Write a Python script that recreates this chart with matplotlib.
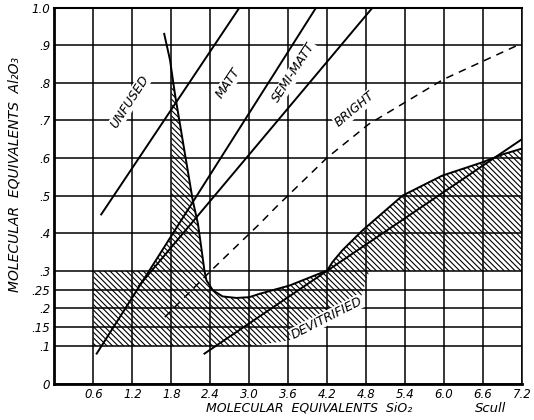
import numpy as np
import matplotlib.pyplot as plt

# axis ticks
X_TICKS = [0.6, 1.2, 1.8, 2.4, 3.0, 3.6, 4.2, 4.8, 5.4, 6.0, 6.6, 7.2]
X_TICK_LABELS = ["0.6", "1.2", "1.8", "2.4", "3.0", "3.6", "4.2", "4.8", "5.4", "6.0", "6.6", "7.2"]
Y_TICKS = [0, 0.1, 0.15, 0.2, 0.25, 0.3, 0.4, 0.5, 0.6, 0.7, 0.8, 0.9, 1.0]
Y_TICK_LABELS = ["0", ".1", ".15", ".2", ".25", ".3", ".4", ".5", ".6", ".7", ".8", ".9", "1.0"]

# straight boundary lines (end points)
UNFUSED_X = [0.72, 2.85]
UNFUSED_Y = [0.45, 1.0]
MATT_X = [0.65, 4.03]
MATT_Y = [0.08, 1.0]
SEMI_MATT_X = [1.3, 4.9]
SEMI_MATT_Y = [0.26, 1.0]
DEVIT_X = [2.31, 7.2]
DEVIT_Y = [0.08, 0.65]

# dashed "bright" boundary
BRIGHT_X = [1.70, 2.39, 3.16, 3.41, 4.20, 4.84, 5.99, 7.2]
BRIGHT_Y = [0.177, 0.297, 0.425, 0.469, 0.601, 0.69, 0.809, 0.905]

# spike + devitrified upper curve
CURVE_X = [1.69, 1.78, 1.83, 1.86, 2.13, 2.21, 2.26, 2.31, 2.34, 2.44, 2.59, 2.80, 3.00,
           3.16, 3.62, 4.20, 4.28, 4.43, 4.74, 5.36, 5.97, 6.58, 6.91, 7.2]
CURVE_Y = [0.93, 0.86, 0.80, 0.765, 0.487, 0.425, 0.363, 0.30, 0.275, 0.248, 0.232, 0.228, 0.230,
           0.239, 0.261, 0.301, 0.323, 0.354, 0.407, 0.50, 0.553, 0.588, 0.610, 0.625]

# hatched band limits and lower edge of hatched area
BAND_LEFT = 0.6
BAND_BOTTOM = 0.1
BAND_TOP = 0.3
SPIKE_LEFT = 1.8
LOWER_X = [7.2, 4.85, 4.7, 4.2, 3.6, 3.05, 0.6]
LOWER_Y = [0.3, 0.3, 0.22, 0.16, 0.115, 0.1, 0.1]

# region labels: text, x, y, rotation
LABELS = ["UNFUSED", "MATT", "SEMI-MATT", "BRIGHT", "DEVITRIFIED"]
LABEL_X = [1.155, 2.68, 3.69, 4.63, 4.19]
LABEL_Y = [0.748, 0.80, 0.827, 0.73, 0.174]
LABEL_ROT = [57, 56, 57, 40, 27]

plt.rcParams["font.family"] = ["DejaVu Sans"]
plt.rcParams["hatch.linewidth"] = 0.8
fig = plt.figure(figsize=(5.34, 4.2), dpi=100)
ax = fig.add_axes([0.102, 0.0864, 0.8755, 0.8957])
ax.set_xlim(0, 7.2)
ax.set_ylim(0, 1.0)

ax.set_xticks(X_TICKS)
ax.set_xticklabels(X_TICK_LABELS, fontsize=8.5, style="italic")
ax.set_yticks(Y_TICKS)
ax.set_yticklabels(Y_TICK_LABELS, fontsize=8.5, style="italic")
ax.tick_params(length=0, pad=3)
ax.grid(True, color="black", lw=1.1)
ax.set_axisbelow(True)

for side, lw in [("left", 2.0), ("bottom", 2.0), ("top", 1.5), ("right", 1.1)]:
    ax.spines[side].set_linewidth(lw)

# hatched area outline
line2_at_top = np.interp(BAND_TOP, MATT_Y, MATT_X)
line2_at_spike = np.interp(SPIKE_LEFT, MATT_X, MATT_Y)
spike_at_left = np.interp(SPIKE_LEFT, CURVE_X, CURVE_Y)
poly_x = [BAND_LEFT, BAND_LEFT, line2_at_top, SPIKE_LEFT, SPIKE_LEFT]
poly_y = [BAND_BOTTOM, BAND_TOP, BAND_TOP, line2_at_spike, spike_at_left]
for cx, cy in zip(CURVE_X, CURVE_Y):
    if cx > SPIKE_LEFT:
        poly_x.append(cx)
        poly_y.append(cy)
poly_x += LOWER_X
poly_y += LOWER_Y
ax.fill(poly_x, poly_y, facecolor="none", edgecolor="black", hatch="\\" * 6, lw=0)

ax.plot(UNFUSED_X, UNFUSED_Y, color="black", lw=1.4)
ax.plot(MATT_X, MATT_Y, color="black", lw=1.4)
ax.plot(SEMI_MATT_X, SEMI_MATT_Y, color="black", lw=1.4)
ax.plot(DEVIT_X, DEVIT_Y, color="black", lw=1.4)
ax.plot(CURVE_X, CURVE_Y, color="black", lw=1.4)
ax.plot(BRIGHT_X, BRIGHT_Y, color="black", lw=1.1, dashes=(5, 4))

for text, x, y, rot in zip(LABELS, LABEL_X, LABEL_Y, LABEL_ROT):
    ax.text(x, y, text, rotation=rot, rotation_mode="anchor", ha="center", va="center",
            fontsize=9, style="italic", bbox=dict(facecolor="white", edgecolor="none", pad=0.5))

ax.text(0.545, -0.065, "MOLECULAR  EQUIVALENTS  SiO₂", transform=ax.transAxes,
        ha="center", va="center", fontsize=9, style="italic")
ax.text(0.932, -0.065, "Scull", transform=ax.transAxes,
        ha="center", va="center", fontsize=9.5, style="italic")
ax.text(-0.085, 0.555, "MOLECULAR  EQUIVALENTS  Al₂O₃", transform=ax.transAxes,
        ha="center", va="center", rotation=90, fontsize=10, style="italic")

fig.savefig("out.png", dpi=100)
